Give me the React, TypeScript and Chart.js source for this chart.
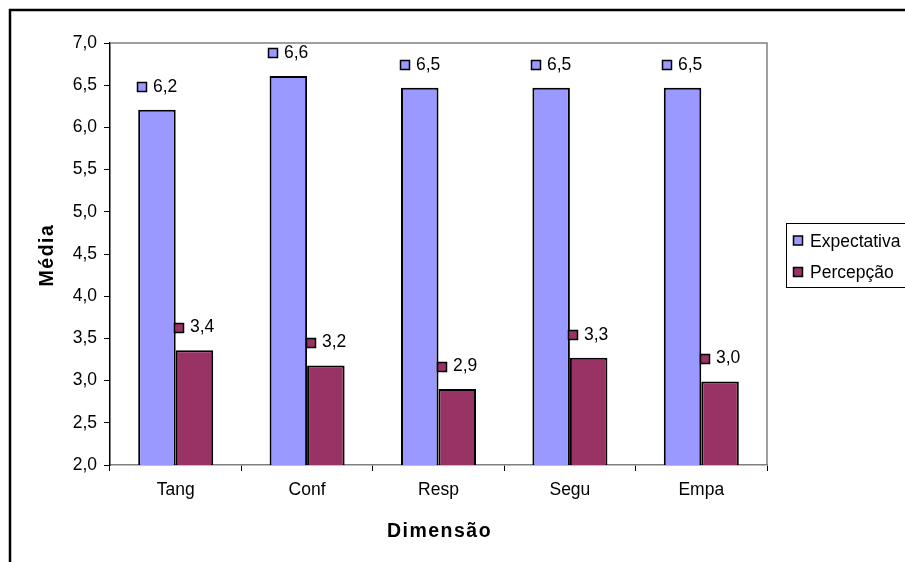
import { useEffect, useRef } from "react";
import { Chart, registerables } from "chart.js";

Chart.register(...registerables);

// Service-quality dimensions and mean scores per series
const dimensions = ["Tang", "Conf", "Resp", "Segu", "Empa"];
const expectativa = [6.21, 6.61, 6.47, 6.47, 6.47];
const percepcao = [3.36, 3.18, 2.9, 3.27, 2.99];
const seriesNames = ["Expectativa", "Percepção"];
const seriesColors = ["#9999FF", "#993366"];
const yMin = 2;
const yMax = 7;
const yStep = 0.5;
const xTitle = "Dimensão";
const yTitle = "Média";

const FONT = "'Liberation Sans', Arial, sans-serif";
const FS = 17.5;

const fmt = (v: number) => v.toFixed(1).replace(".", ",");

const decorations = {
  id: "decorations",
  beforeDraw(chart: any) {
    const { ctx, width, height } = chart;
    ctx.save();
    ctx.fillStyle = "#ffffff";
    ctx.fillRect(0, 0, width, height);
    ctx.restore();
  },
  afterDatasetsDraw(chart: any) {
    const { ctx, chartArea } = chart;
    ctx.save();
    // value labels with a small key square
    ctx.font = `${FS}px ${FONT}`;
    ctx.textBaseline = "alphabetic";
    ctx.textAlign = "left";
    chart.data.datasets.forEach((ds: any, di: number) => {
      const meta = chart.getDatasetMeta(di);
      meta.data.forEach((bar: any, i: number) => {
        const text = fmt(ds.data[i]);
        const box = 10;
        const gap = 6;
        const tw = ctx.measureText(text).width;
        const total = box + gap + tw;
        const x0 = Math.round(bar.x - total / 2);
        const cy = bar.y - 22.5;
        ctx.fillStyle = ds.backgroundColor;
        ctx.fillRect(x0 + 0.5, Math.round(cy - box / 2) + 0.5, box - 1, box - 1);
        ctx.strokeStyle = "#000";
        ctx.lineWidth = 1.5;
        ctx.strokeRect(x0 + 0.5, Math.round(cy - box / 2) + 0.5, box - 1, box - 1);
        ctx.fillStyle = "#000";
        ctx.fillText(text, x0 + box + gap, cy + 4.5);
      });
    });

    // plot-area border (top and right)
    ctx.strokeStyle = "#808080";
    ctx.lineWidth = 1.5;
    ctx.beginPath();
    ctx.moveTo(chartArea.left, chartArea.top);
    ctx.lineTo(chartArea.right, chartArea.top);
    ctx.lineTo(chartArea.right, chartArea.bottom);
    ctx.stroke();
    ctx.restore();
  },
  afterDraw(chart: any) {
    const { ctx, chartArea } = chart;
    ctx.save();
    // outer chart frame
    ctx.strokeStyle = "#000";
    ctx.lineWidth = 2.5;
    ctx.strokeRect(10, 10, 1200, 1200);

    // axis titles
    ctx.fillStyle = "#000";
    ctx.font = `bold 19.5px ${FONT}`;
    (ctx as any).letterSpacing = "1.5px";
    ctx.textAlign = "center";
    ctx.textBaseline = "alphabetic";
    ctx.fillText(xTitle, (chartArea.left + chartArea.right) / 2 + 1, 537);
    ctx.save();
    ctx.translate(53, (chartArea.top + chartArea.bottom) / 2 + 1);
    ctx.rotate(-Math.PI / 2);
    ctx.fillText(yTitle, 0, 0);
    ctx.restore();
    (ctx as any).letterSpacing = "0px";

    // legend
    const lx = 786;
    const ly = 223;
    ctx.fillStyle = "#fff";
    ctx.fillRect(lx, ly, 200, 64);
    ctx.strokeStyle = "#000";
    ctx.lineWidth = 1;
    ctx.strokeRect(lx + 0.5, ly + 0.5, 200, 64);
    ctx.font = `${FS}px ${FONT}`;
    ctx.textAlign = "left";
    seriesNames.forEach((name, i) => {
      const cy = 240.5 + i * 31.5;
      ctx.fillStyle = seriesColors[i];
      ctx.fillRect(793.5, cy - 4.5, 9, 9);
      ctx.strokeStyle = "#000";
      ctx.lineWidth = 1.5;
      ctx.strokeRect(793.5, cy - 4.5, 9, 9);
      ctx.fillStyle = "#000";
      ctx.fillText(name, 810, cy + 6);
    });
    ctx.restore();
  },
};

export default function App() {
  const canvasRef = useRef<HTMLCanvasElement | null>(null);

  useEffect(() => {
    const canvas = canvasRef.current;
    if (!canvas) return;
    const chart = new Chart(canvas, {
      type: "bar",
      data: {
        labels: dimensions,
        datasets: [
          {
            label: seriesNames[0],
            data: expectativa,
            backgroundColor: seriesColors[0],
            borderColor: "#000",
            borderWidth: 2,
            categoryPercentage: 0.571,
            barPercentage: 1,
          },
          {
            label: seriesNames[1],
            data: percepcao,
            backgroundColor: seriesColors[1],
            borderColor: "#000",
            borderWidth: 2,
            categoryPercentage: 0.571,
            barPercentage: 1,
          },
        ],
      },
      options: {
        responsive: false,
        animation: false,
        devicePixelRatio: 1,
        layout: { padding: { left: 10, top: 43, right: 138, bottom: 10 } },
        plugins: {
          legend: { display: false },
          tooltip: { enabled: false },
        },
        scales: {
          x: {
            grid: {
              offset: true,
              drawOnChartArea: false,
              drawTicks: true,
              tickLength: 6,
              color: "#000",
            },
            border: { color: "#808080", width: 1.5 },
            ticks: {
              color: "#000",
              font: { family: FONT, size: FS },
              padding: 9,
              maxRotation: 0,
              autoSkip: false,
            },
            afterFit: (scale: any) => {
              scale.height = 87;
            },
          },
          y: {
            min: yMin,
            max: yMax,
            grid: {
              drawOnChartArea: false,
              drawTicks: true,
              tickLength: 6,
              color: "#000",
            },
            border: { color: "#000", width: 1.5 },
            ticks: {
              stepSize: yStep,
              color: "#000",
              font: { family: FONT, size: FS },
              padding: 7,
              callback: (v: any) => fmt(Number(v)),
            },
            afterFit: (scale: any) => {
              scale.width = 100;
            },
          },
        },
      },
      plugins: [decorations],
    });
    return () => chart.destroy();
  }, []);

  return (
    <div style={{ position: "fixed", left: 0, top: 0, width: 905, height: 562, background: "#fff" }}>
      <canvas ref={canvasRef} width={905} height={562} style={{ display: "block" }} />
    </div>
  );
}
